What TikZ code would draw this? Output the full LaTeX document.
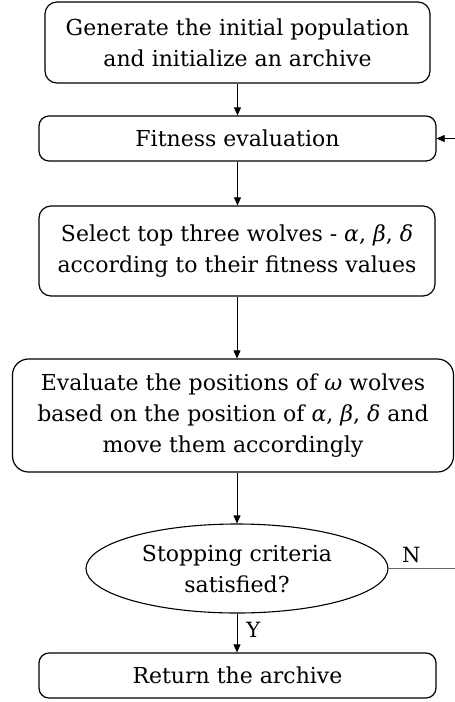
\documentclass[tikz,border=0pt]{standalone}
\usepackage{fontspec}
\setmainfont{DejaVu Serif}
\usetikzlibrary{arrows.meta,shapes.geometric}
\newcommand{\gr}[1]{{\itshape #1}}
\tikzset{
  stepbox/.style={draw, line width=1.2pt, rounded corners=12pt, align=center,
    inner sep=0pt, font=\fontsize{22}{31}\selectfont},
  decision/.style={draw, ellipse, line width=1.1pt, align=center, inner sep=0pt,
    font=\fontsize{22}{31}\selectfont},
  flow/.style={line width=0.7pt, -{Triangle[length=8pt,width=7pt]}},
  lbl/.style={font=\fontsize{21}{25}\selectfont, inner sep=0pt}
}
\begin{document}
\begin{tikzpicture}[x=1pt,y=-1pt]
  \useasboundingbox (0,0) rectangle (455,702);
  \clip (0,0) rectangle (455,702);
  \node[stepbox, minimum width=385pt, minimum height=81pt] (init) at (237.5,42.5)
    {Generate the initial population\\and initialize an archive};
  \node[stepbox, rounded corners=10pt, minimum width=397pt, minimum height=45pt] (fit) at (237.5,138.5)
    {Fitness evaluation};
  \node[stepbox, minimum width=396pt, minimum height=90pt] (sel) at (237,251)
    {Select top three wolves - \gr{α}, \gr{β}, \gr{δ}\\according to their fitness values};
  \node[stepbox, rounded corners=16pt, minimum width=441pt, minimum height=113pt] (move) at (233,415.5)
    {Evaluate the positions of \gr{ω} wolves\\based on the position of \gr{α}, \gr{β}, \gr{δ} and\\move them accordingly};
  \node[decision, minimum width=302pt, minimum height=89pt] (stop) at (237,568.5)
    {Stopping criteria\\satisfied?};
  \node[stepbox, rounded corners=10pt, minimum width=397pt, minimum height=45pt] (ret) at (237.5,675.5)
    {Return the archive};

  \coordinate (loopdown) at (470,568.5);
  \coordinate (loopup) at (470,138.5);

  \draw[flow] (init.south -| fit.north) -- (fit.north);
  \draw[flow] (fit.south) -- (sel.north -| fit.south);
  \draw[flow] (sel.south) -- (move.north -| sel.south);
  \draw[flow] (move.south -| stop.north) -- (stop.north);
  \draw[flow] (stop.south) -- (ret.north -| stop.south)
    node[lbl, pos=0.42, right=9pt] {Y};
  \draw[line width=0.7pt, draw=black!60] (stop.east) -- (loopdown)
    node[lbl, pos=0.28, above=5pt] {N};
  \draw[line width=0.7pt, draw=black!60] (loopdown) -- (loopup);
  \draw[flow] (loopup) -- (fit.east);
\end{tikzpicture}
\end{document}
